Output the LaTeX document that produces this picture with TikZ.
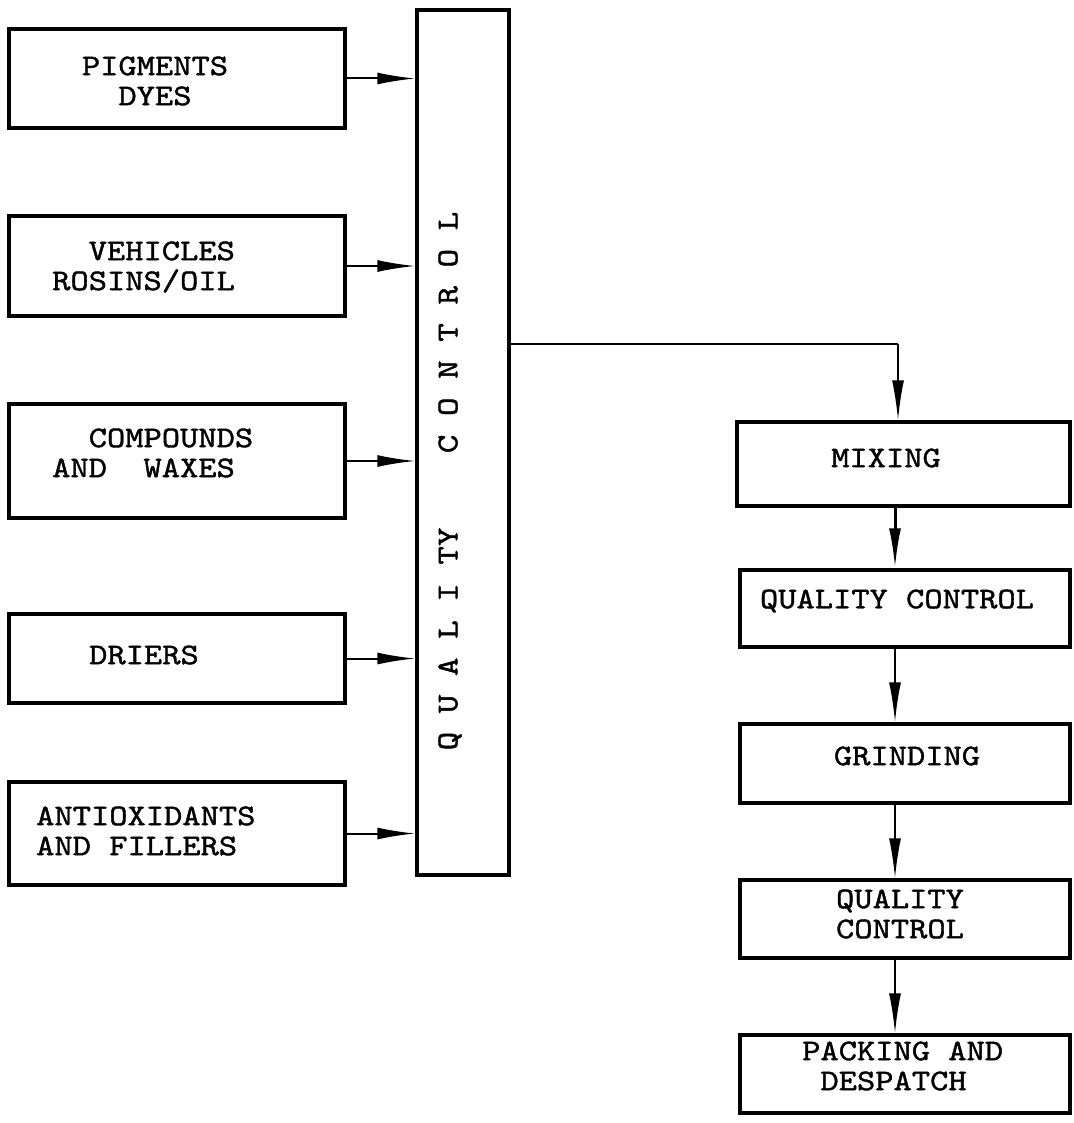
\documentclass[tikz,border=0pt]{standalone}
\usepackage{fontspec}
\usetikzlibrary{arrows.meta,fit}

% typewriter lettering: Latin Modern Mono, widened and darkened a little
\newfontfamily\typer{lmmono10-regular.otf}[FakeStretch=1.16,FakeBold=1.3]
\newcommand\typerfont[1]{\typer\fontsize{#1}{30}\selectfont}

\tikzset{
  box/.style={draw, line width=3.5pt, rectangle, inner sep=0pt},
  lbl/.style={inner sep=0pt, font=\typerfont{30}},
  feed/.style={line width=2pt, -{Latex[length=38pt,width=12pt]}},
  flow/.style={line width=2pt, -{Latex[length=40pt,width=12pt]}}
}

\begin{document}
\begin{tikzpicture}[x=1pt,y=-1pt]
  \path[use as bounding box, fill=white] (0,0) rectangle (1073,1123);

  % raw material boxes
  \node[box, fit={(9,29) (345,128)}]   (b1) {};
  \node[box, fit={(9,216) (345,316)}]  (b2) {};
  \node[box, fit={(9,404) (345,518)}]  (b3) {};
  \node[box, fit={(9,614) (345,703)}]  (b4) {};
  \node[box, fit={(9,782) (345,885)}]  (b5) {};

  \node[lbl, align=center] (t1) at (155,81) {PIGMENTS\\DYES};
  \node[lbl, align=left, anchor=west] (t2) at (52,267) {~~VEHICLES\\ROSINS/OIL};
  \node[lbl, align=left, anchor=west] (t3) at (52,453) {~~COMPOUNDS\\AND~~WAXES};
  \node[lbl] (t4) at (144,655) {DRIERS};
  \node[lbl, align=left, anchor=west] (t5) at (36,831) {ANTIOXIDANTS\\AND FILLERS};

  % incoming quality control column
  \node[box, fit={(417,10) (509,875)}] (qc) {};
  \node[lbl, rotate=90, font=\typerfont{30.5}] (qct) at (450,481)
    {Q~U~A~L~I~TY~~~~C~O~N~T~R~O~L};

  \foreach \b in {b1,b2,b3,b4,b5}
    \draw[feed] (\b.east) -- (\b.east -| qc.west);

  % process chain
  \node[box, fit={(737,422) (1070,506)}]  (m1) {};
  \node[box, fit={(740,570) (1070,647)}]  (m2) {};
  \node[box, fit={(740,724) (1070,803)}]  (m3) {};
  \node[box, fit={(740,880) (1070,958)}]  (m4) {};
  \node[box, fit={(740,1035) (1070,1113)}] (m5) {};

  \node[lbl] (r1) at (886,458) {MIXING};
  \node[lbl] (r2) at (897,601) {QUALITY CONTROL};
  \node[lbl] (r3) at (907,756) {GRINDING};
  \node[lbl, align=center] (r4) at (900,914) {QUALITY\\CONTROL};
  \node[lbl, align=left, anchor=west] (r5) at (802,1066) {PACKING AND\\~DESPATCH};

  \coordinate (tap) at (qc.east |- 0,344);
  \coordinate (ax) at (895,0);
  \coordinate (turn) at (898,344);

  \draw[line width=2pt] (tap) -- (turn);
  \draw[flow] (turn) -- (m1.north -| turn);
  \draw[flow, line width=3pt] (m1.south -| ax) -- (m2.north -| ax);
  \draw[flow] (m2.south -| ax) -- (m3.north -| ax);
  \draw[flow] (m3.south -| ax) -- (m4.north -| ax);
  \draw[flow] (m4.south -| ax) -- (m5.north -| ax);
\end{tikzpicture}
\end{document}
